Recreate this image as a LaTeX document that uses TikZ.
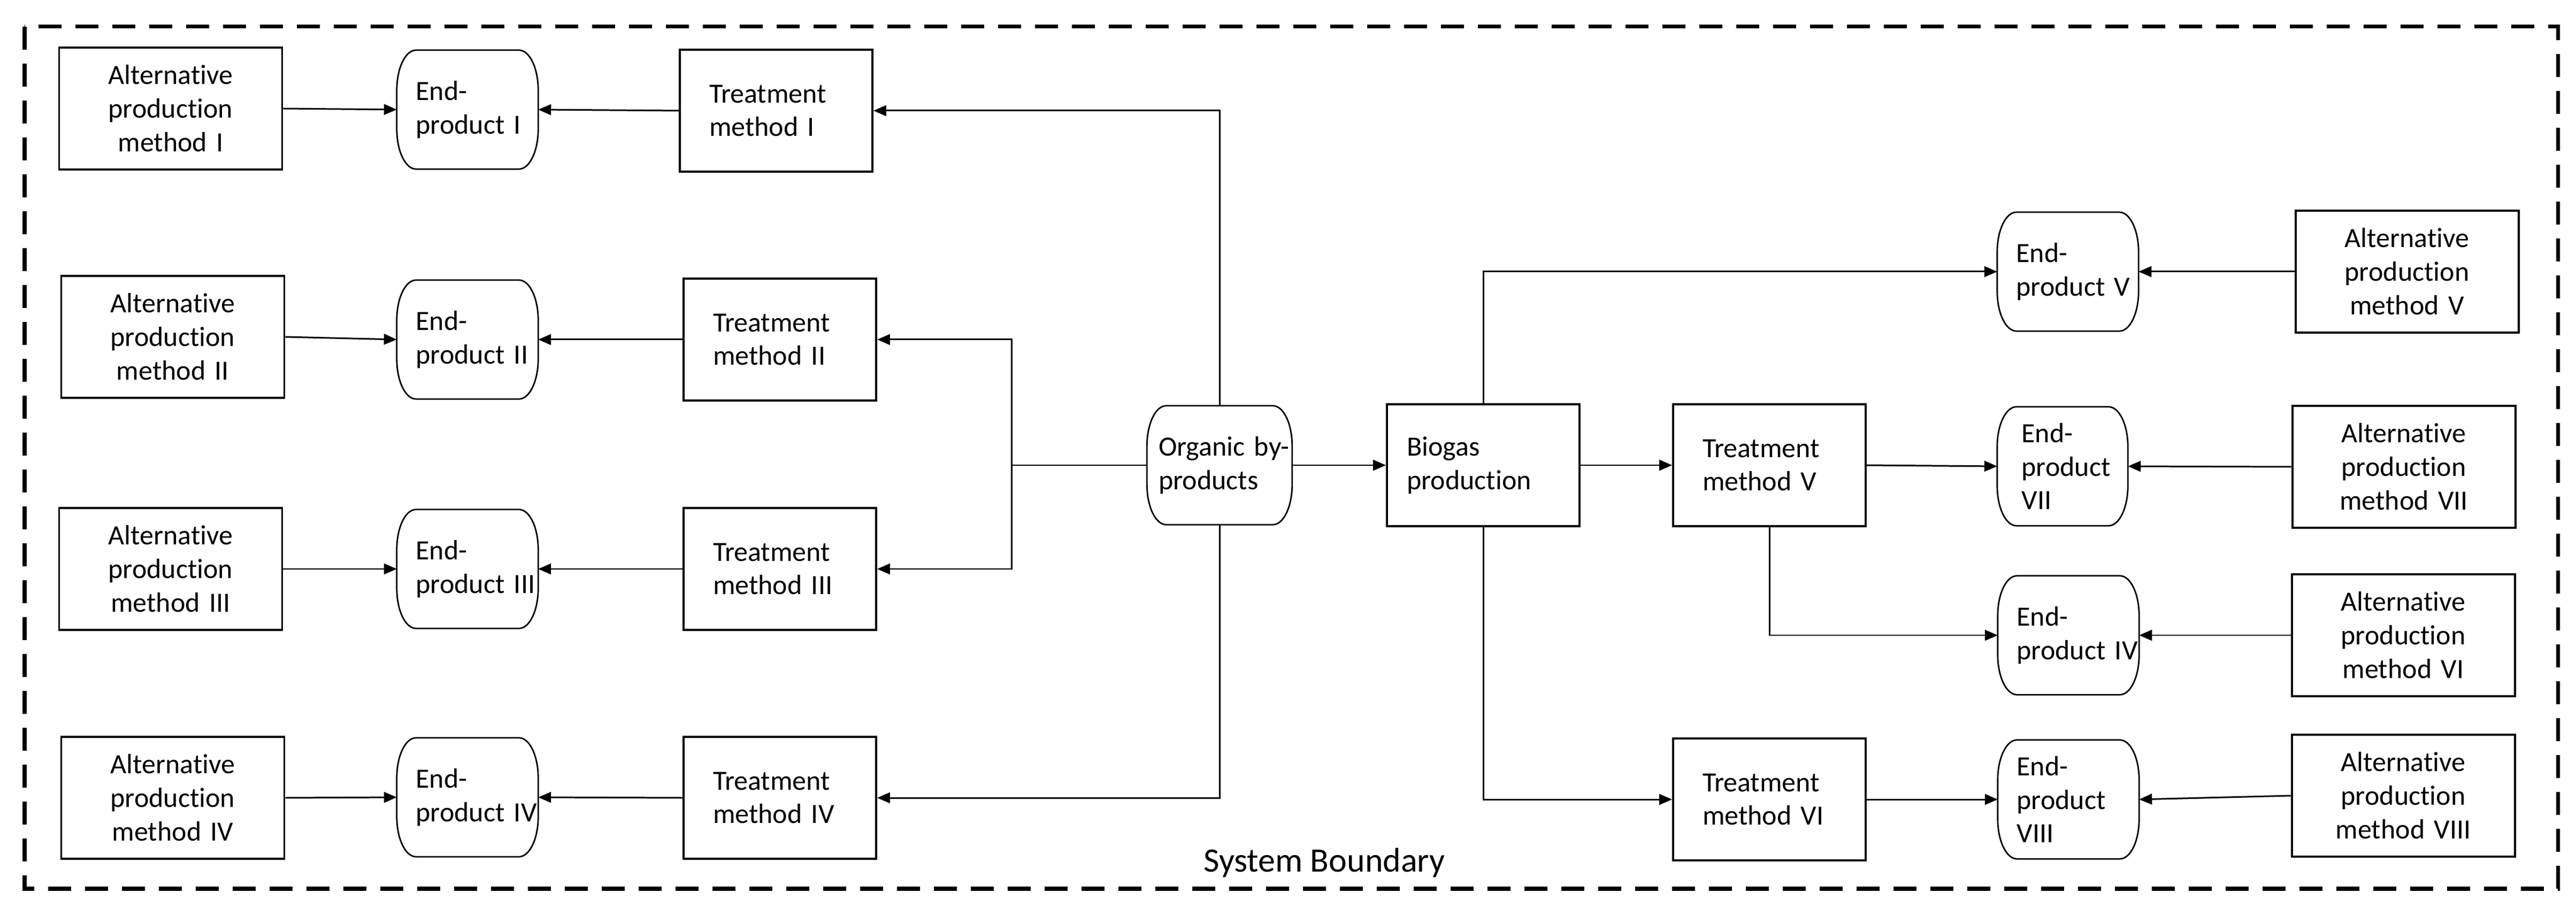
\documentclass[tikz,border=0pt]{standalone}
\usepackage{fontspec}
\setmainfont[Ligatures={NoCommon,NoContextual},Contextuals=NoAlternate]{Carlito}
\usetikzlibrary{arrows.meta,calc}
\hyphenpenalty=10000
\exhyphenpenalty=10000
\newcommand\epshape[1]{%
 \draw[endline] ($(#1.north west)+(0.36,0)$) -- ($(#1.north east)+(-0.36,0)$)
   arc[start angle=90,end angle=0,x radius=0.36cm,y radius=0.75cm]
   -- ($(#1.south east)+(0,0.75)$)
   arc[start angle=0,end angle=-90,x radius=0.36cm,y radius=0.75cm]
   -- ($(#1.south west)+(0.36,0)$)
   arc[start angle=270,end angle=180,x radius=0.36cm,y radius=0.75cm]
   -- ($(#1.north west)+(0,-0.75)$)
   arc[start angle=180,end angle=90,x radius=0.36cm,y radius=0.75cm]
   -- cycle;}
\tikzset{
  txt/.style={font=\fontsize{14.8pt}{17.9pt}\selectfont},
  boxbase/.style={draw, line width=1.1pt, txt, inner ysep=0pt, minimum height=2.28cm},
  altbox/.style={boxbase, inner xsep=0pt, text width=4.17cm, align=center},
  trbox/.style={boxbase, inner xsep=0.55cm, text width=2.5cm, align=left},
  biobox/.style={boxbase, inner xsep=0.37cm, text width=2.86cm, align=left},
  endnode/.style={draw=none, txt, inner ysep=0pt, minimum height=2.21cm, inner xsep=0.35cm, text width=1.93cm, align=left},
  conn/.style={line width=0.85pt, -{Triangle[length=0.24cm,width=0.2cm]}},
  plainconn/.style={line width=0.85pt},
  endline/.style={line width=0.8pt},
  boundary/.style={line width=2pt, dash pattern=on 0.43cm off 0.26cm},
}
\begin{document}
\begin{tikzpicture}
\useasboundingbox (0,0) rectangle (48.16,-17.13);
\draw[boundary] (0.46,-0.50) rectangle (47.82,-16.62);
% left alternative methods
\node[altbox] (a1) at (3.19,-2.03) {Alternative\\production\\method I};
\node[altbox] (a2) at (3.23,-6.30) {Alternative\\production\\method II};
\node[altbox] (a3) at (3.19,-10.64) {Alternative\\production\\method III};
\node[altbox] (a4) at (3.23,-14.92) {Alternative\\production\\method IV};
% left end-products
\node[endnode] (e1) at (8.74,-2.05) {End-\\\mbox{product I}};
\node[endnode] (e2) at (8.74,-6.35) {End-\\\mbox{product II}};
\node[endnode] (e3) at (8.74,-10.64) {End-\\\mbox{product III}};
\node[endnode] (e4) at (8.74,-14.91) {End-\\\mbox{product IV}};
% left treatments
\node[trbox] (t1) at (14.51,-2.07) {Treatment\\method I};
\node[trbox] (t2) at (14.58,-6.35) {Treatment\\method II};
\node[trbox] (t3) at (14.58,-10.64) {Treatment\\method III};
\node[trbox] (t4) at (14.58,-14.92) {Treatment\\method IV};
% centre
\node[endnode, inner xsep=0.21cm, text width=2.28cm] (org) at (22.80,-8.70) {\mbox{Organic by-}\\products};
\node[biobox] (bio) at (27.73,-8.70) {Biogas\\production};
% right side
\node[trbox] (t5) at (33.08,-8.70) {Treatment\\method V};
\node[trbox] (t6) at (33.08,-14.95) {Treatment\\method VI};
\node[endnode] (e5) at (38.66,-5.08) {End-\\\mbox{product V}};
\node[endnode, inner xsep=0.45cm, text width=1.53cm] (e7) at (38.56,-8.72) {End-\\product\\VII};
\node[endnode] (e4r) at (38.67,-11.88) {End-\\\mbox{product IV}};
\node[endnode] (e8) at (38.67,-14.95) {End-\\product\\VIII};
\node[altbox] (a5) at (45.00,-5.08) {Alternative\\production\\method V};
\node[altbox] (a7) at (44.94,-8.73) {Alternative\\production\\method VII};
\node[altbox] (a6) at (44.93,-11.88) {Alternative\\production\\method VI};
\node[altbox] (a8) at (44.93,-14.88) {Alternative\\production\\method VIII};
% end-product outlines
\foreach \n in {e1,e2,e3,e4,org,e5,e7,e4r,e8} {\epshape{\n}}
% connectors left
\draw[conn] (a1.east) -- (e1.west);
\draw[conn] (a2.east) -- (e2.west);
\draw[conn] (a3.east) -- (e3.west);
\draw[conn] (a4.east) -- (e4.west);
\draw[conn] (t1.west) -- (e1.east);
\draw[conn] (t2.west) -- (e2.east);
\draw[conn] (t3.west) -- (e3.east);
\draw[conn] (t4.west) -- (e4.east);
\draw[conn] (org.north) |- (t1.east);
\draw[conn] (org.south) |- (t4.east);
\coordinate (br) at (18.91,-8.70);
\draw[plainconn] (org.west) -- (br);
\draw[conn] (br) |- (t2.east);
\draw[conn] (br) |- (t3.east);
% connectors centre/right
\draw[conn] (org.east) -- (bio.west);
\draw[conn] (bio.north) |- (e5.west);
\draw[conn] (bio.east) -- (t5.west);
\draw[conn] (bio.south) |- (t6.west);
\draw[conn] (t5.east) -- (e7.west);
\draw[conn] (t5.south) |- (e4r.west);
\draw[conn] (t6.east) -- (e8.west);
\draw[conn] (a5.west) -- (e5.east);
\draw[conn] (a7.west) -- (e7.east);
\draw[conn] (a6.west) -- (e4r.east);
\draw[conn] (a8.west) -- (e8.east);
\node[font=\fontsize{18.2pt}{22pt}\selectfont, anchor=base] (sb) at (24.76,-16.30) {System Boundary};
\end{tikzpicture}
\end{document}
